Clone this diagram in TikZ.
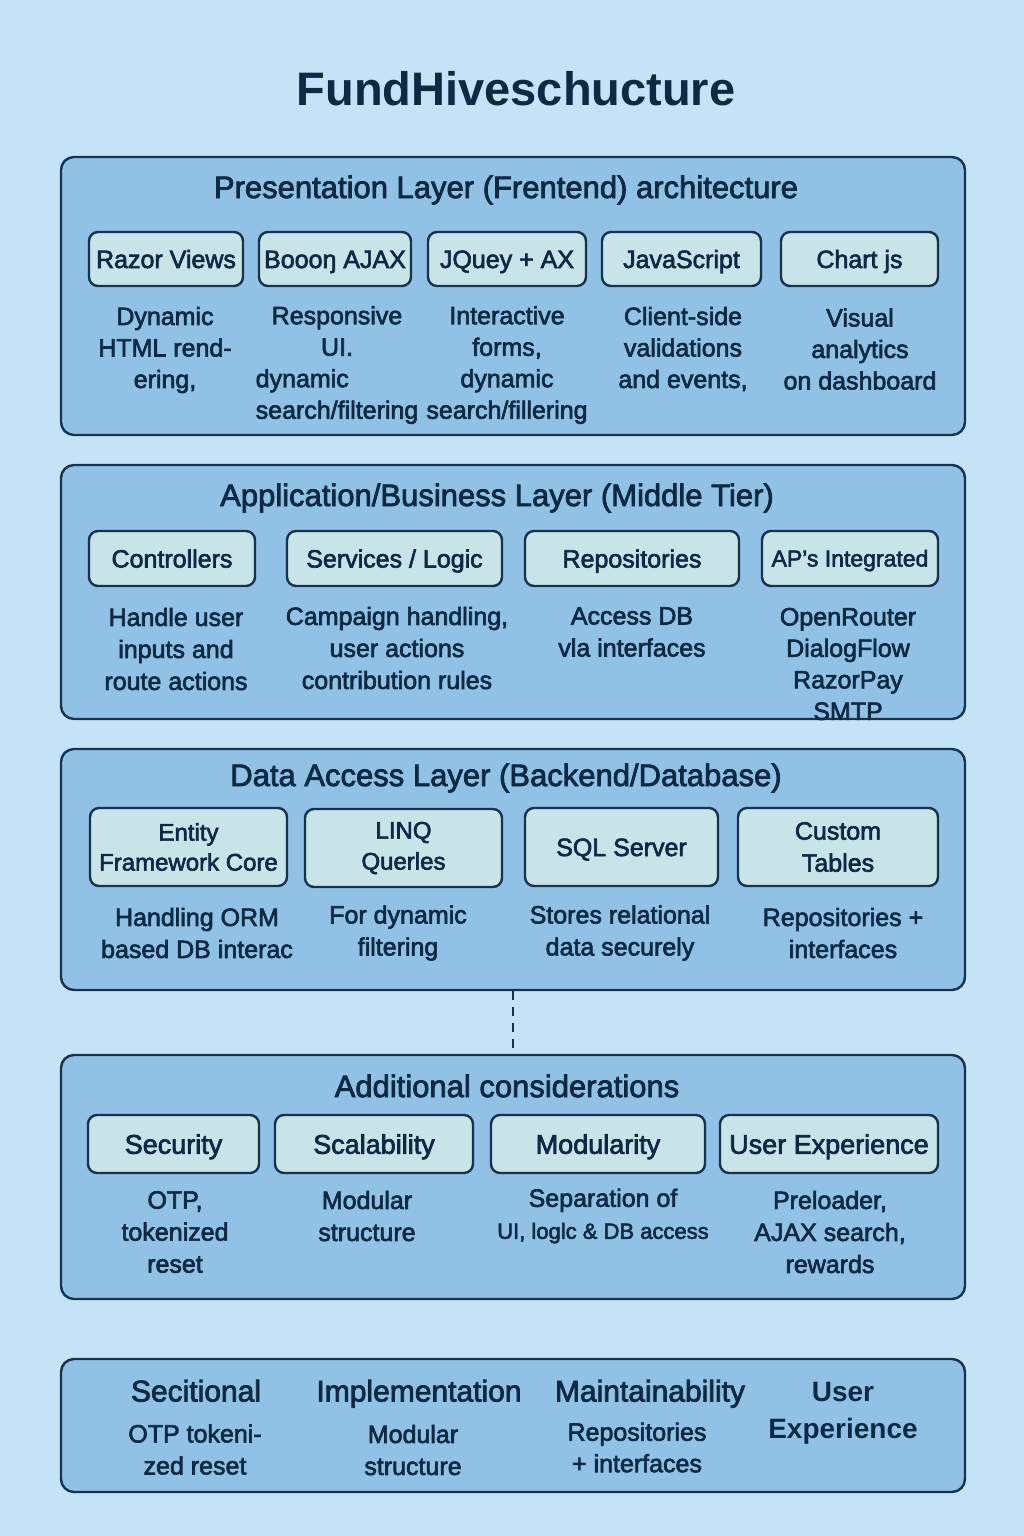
\documentclass[tikz,border=0pt]{standalone}
\usepackage{fontspec}
\setmainfont{Liberation Sans}
\newfontfamily\bodyfont{Liberation Sans}[FakeBold=2.5]
\definecolor{pagebg}{HTML}{C5E3F6}
\definecolor{panelfill}{HTML}{91C2E6}
\definecolor{boxfill}{HTML}{C8E4E8}
\definecolor{edge}{HTML}{17324D}
\definecolor{ink}{HTML}{0E2943}
\newcommand{\leftin}[2]{{\setbox0\hbox{#2}\makebox[\wd0][l]{#1}}}
\begin{document}
\begin{tikzpicture}[x=1pt,y=-1pt,
  every node/.style={text=ink},
  panel/.style={draw=edge, line width=2.4pt, fill=panelfill, rounded corners=13pt,
    minimum width=904, inner sep=0pt},
  modbox/.style={draw=edge, line width=2.4pt, fill=boxfill, rounded corners=9pt,
    inner sep=0pt, align=center, font=\bodyfont\fontsize{25}{30}\selectfont},
  oneline/.style={text height=22pt, text depth=4pt},
  onebig/.style={text height=23.5pt, text depth=4pt, font=\bodyfont\fontsize{27}{32}\selectfont},
  ptitle/.style={font=\bodyfont\fontsize{31}{36}\selectfont},
  desc/.style={align=center, inner sep=0pt, font=\bodyfont\fontsize{25}{31.5}\selectfont},
  desctight/.style={align=center, inner sep=0pt, font=\bodyfont\fontsize{25}{32}\selectfont},
  head/.style={inner sep=0pt, text height=26pt, text depth=5pt, font=\bodyfont\fontsize{30}{36}\selectfont}
]
\fill[pagebg] (0,0) rectangle (1024,1536);
\useasboundingbox (0,0) rectangle (1024,1536);

% heading
\node[font=\fontsize{47}{52}\bfseries] (title) at (516,89) {FundHiveschucture};

% ---------- presentation layer ----------
\node[panel, minimum height=278] (p1) at (513,296) {};
\node[ptitle] (p1t) at (506,190) {Presentation Layer (Frentend) architecture};
\node[modbox, oneline, minimum width=154, minimum height=54] (razor) at (166,259) {Razor Views};
\node[modbox, oneline, minimum width=152, minimum height=54] (booo)  at (335,259) {Boooŋ AJAX};
\node[modbox, oneline, minimum width=158, minimum height=54] (jq)    at (507,259) {JQuey + AX};
\node[modbox, oneline, minimum width=159, minimum height=54] (js)    at (681.5,259) {JavaScript};
\node[modbox, oneline, minimum width=157, minimum height=54] (chart) at (859.5,259) {Chart js};
\node[desc] (d11) at (165,350) {Dynamic\\HTML rend-\\ering,};
\node[desc] (d12) at (337,365) {Responsive\\UI.\\\leftin{dynamic}{search/filtering}\\search/filtering};
\node[desc] (d13) at (507,365) {Interactive\\forms,\\dynamic\\search/fillering};
\node[desc] (d14) at (683,349) {Client-side\\validations\\and events,};
\node[desc] (d15) at (860,349) {Visual\\analytics\\on dashboard};

% ---------- application layer ----------
\node[panel, minimum height=254] (p2) at (513,592) {};
\node[ptitle] (p2t) at (497,498) {Application/Business Layer (Middle Tier)};
\node[modbox, oneline, minimum width=166, minimum height=55] (ctrl) at (172,558.5) {Controllers};
\node[modbox, oneline, minimum width=215, minimum height=55] (serv) at (394.5,558.5) {Services / Logic};
\node[modbox, oneline, minimum width=214, minimum height=55] (repo) at (632,558.5) {Repositories};
\node[modbox, minimum width=176, minimum height=55, text height=20pt, text depth=4pt, font=\bodyfont\fontsize{23}{28}\selectfont] (api) at (850,558.5) {AP’s Integrated};
\node[desctight] (d21) at (176,649) {Handle user\\inputs and\\route actions};
\node[desctight] (d22) at (397,648) {Campaign handling,\\user actions\\contribution rules};
\node[desctight] (d23) at (632,632) {Access DB\\vla interfaces};
\node[desc] (d24) at (848,664) {OpenRouter\\DialogFlow\\RazorPay\\SMTP};

% ---------- data access layer ----------
\node[panel, minimum height=241] (p3) at (513,869.5) {};
\node[ptitle] (p3t) at (506,778) {Data Access Layer (Backend/Database)};
\node[modbox, minimum width=197, minimum height=78, font=\bodyfont\fontsize{24}{30}\selectfont] (ef)     at (188.5,847) {Entity\\Framework Core};
\node[modbox, minimum width=197, minimum height=78, font=\bodyfont\fontsize{24}{31}\selectfont] (linq)   at (403.5,848) {LINQ\\Querles};
\node[modbox, oneline, minimum width=193, minimum height=78] (sql)    at (621.5,847) {SQL Server};
\node[modbox, minimum width=200, minimum height=78, font=\bodyfont\fontsize{25}{32}\selectfont] (custom) at (838,847) {Custom\\Tables};
\node[desctight] (d31) at (197,933) {Handling ORM\\based DB interac};
\node[desctight] (d32) at (398,933) {For dynamic\\filtering};
\node[desctight] (d33) at (620,933) {Stores relational\\data securely};
\node[desctight] (d34) at (843,933) {Repositories +\\interfaces};

% ---------- additional considerations ----------
\node[panel, minimum height=244] (p4) at (513,1177) {};
\node[ptitle] (p4t) at (507,1086) {Additional considerations};
\node[modbox, onebig, minimum width=171, minimum height=58] (sec)  at (173.5,1144) {Security};
\node[modbox, onebig, minimum width=198, minimum height=58] (scal) at (374,1144) {Scalability};
\node[modbox, onebig, minimum width=214, minimum height=58] (mod)  at (598,1144) {Modularity};
\node[modbox, onebig, minimum width=218, minimum height=58] (ux)   at (829,1144) {User Experience};
\node[desctight] (d41) at (175,1232) {OTP,\\tokenized\\reset};
\node[desctight] (d42) at (367,1216) {Modular\\structure};
\node[desctight] (d43) at (603,1216) {Separation of\\{\fontsize{22}{32}\selectfont UI, loglc \& DB access}};
\node[desctight] (d44) at (830,1232) {Preloader,\\AJAX search,\\rewards};

% link between the data layer and the considerations panel
\draw[edge, line width=1.8pt, dash pattern=on 9pt off 7pt] (p3.south) -- (p4.north);

% ---------- summary strip ----------
\node[panel, minimum height=133] (p5) at (513,1425.5) {};
\node[head] (h1) at (196,1391) {Secitional};
\node[head] (h2) at (419,1391) {Implementation};
\node[head] (h3) at (650,1391) {Maintainability};
\node[align=center, inner sep=0pt, font=\fontsize{28}{37}\bfseries] (h4) at (843,1413) {User\\Experience};
\node[desctight] (s1) at (195,1449.5) {OTP tokeni-\\zed reset};
\node[desctight] (s2) at (413,1450) {Modular\\structure};
\node[desc] (s3) at (637,1447.5) {Repositories\\+ interfaces};
\end{tikzpicture}
\end{document}
